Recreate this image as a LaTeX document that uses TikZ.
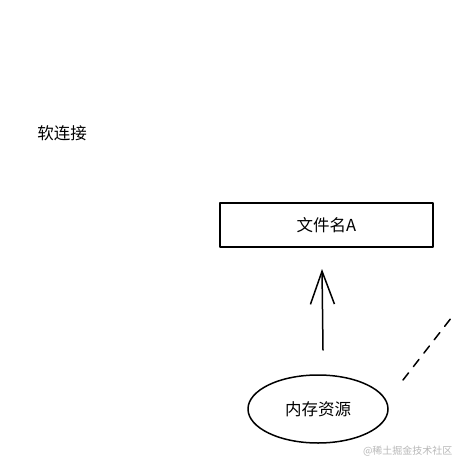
\documentclass[tikz,border=0pt]{standalone}
\usepackage{fontspec}
\setmainfont{Noto Sans CJK SC}
\usetikzlibrary{arrows.meta,shapes.geometric}
\tikzset{
  sketch/.style={draw=black, line width=1.5pt, line cap=round, line join=round},
  lbl/.style={font=\fontsize{16.5}{18}\selectfont, text=black},
  wm/.style={font=\fontsize{10}{12}\selectfont, text=black!28},
}
\begin{document}
\begin{tikzpicture}[x=1pt,y=-1pt]
\useasboundingbox[fill=white] (0,0) rectangle (460,460);
\node[lbl] (soft) at (62,133) {软连接};
\node[sketch, lbl, minimum width=213pt, minimum height=44pt, inner sep=0pt] (file) at (326.5,225) {文件名A};
\node[sketch, lbl, ellipse, minimum width=140pt, minimum height=68pt, inner sep=0pt] (mem) at (318,409) {内存资源};
\coordinate (arrS) at (323,350);
\coordinate (arrE) at (322,269);
\draw[sketch, -{Straight Barb[length=33pt,width=24pt,line width=1.5pt]}] (arrS) -- (arrE);
\coordinate (dA) at (403,380);
\coordinate (dB) at (455,313);
\draw[sketch, dash pattern=on 9pt off 8pt] (dA) -- (dB);
\node[wm, anchor=east] (wmk) at (456,451) {@稀土掘金技术社区};
\end{tikzpicture}
\end{document}
